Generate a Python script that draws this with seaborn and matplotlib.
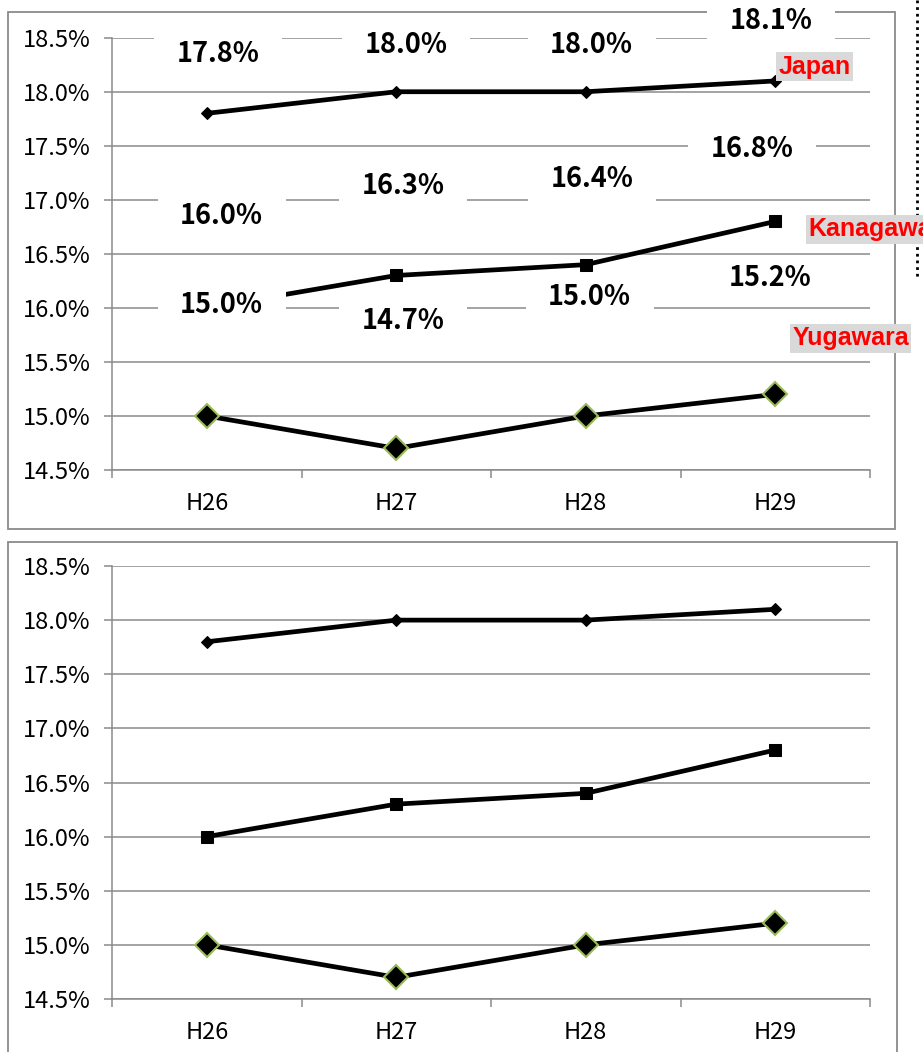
import matplotlib
matplotlib.use("Agg")
import matplotlib.pyplot as plt
import seaborn as sns
import numpy as np
import pandas as pd
from matplotlib.path import Path
from matplotlib.patches import Rectangle
from matplotlib.lines import Line2D
from matplotlib.ticker import FuncFormatter, FixedLocator

# ---------------- data ----------------
years = ["H26", "H27", "H28", "H29"]
japan = [17.8, 18.0, 18.0, 18.1]
kanagawa = [16.0, 16.3, 16.4, 16.8]
yugawara = [15.0, 14.7, 15.0, 15.2]
series_names = ["Japan", "Kanagawa", "Yugawara"]
yticks = [14.5, 15.0, 15.5, 16.0, 16.5, 17.0, 17.5, 18.0, 18.5]

# label offsets (pixels, from point to label baseline-centre) - style only
label_offsets = {
    "Japan": [(11, 51), (10, 39), (6, 39), (-4, 52)],
    "Kanagawa": [(15, 84), (7, 81), (6, 78), (-23, 64)],
    "Yugawara": [(15, 103), (7, 119), (4, 111), (-5, 108)],
}
name_offsets = {"Japan": (3, 14), "Kanagawa": (33, -8), "Yugawara": (17, 56)}

sns.set_style("white")
plt.rcParams["font.family"] = ["Noto Sans CJK JP", "DejaVu Sans"]

W, H = 923, 1052
fig = plt.figure(figsize=(W / 100, H / 100), dpi=100)

GRID = "#8a8a8a"

# panel borders (figure coords)
def add_border(x0, y0, x1, y1):
    r = Rectangle((x0 / W, 1 - y1 / H), (x1 - x0) / W, (y1 - y0) / H,
                  transform=fig.transFigure, fill=False, edgecolor=GRID,
                  linewidth=1.3, zorder=-1)
    fig.add_artist(r)

add_border(8, 12, 895, 529)
add_border(8, 542, 897, 1060)

# dotted vertical line at right
fig.add_artist(Line2D([917 / W, 917 / W], [1.0, 1 - 280 / H], transform=fig.transFigure,
                      color="black", linewidth=2, linestyle=(0, (1, 1.4)), zorder=-1))

ax_left = 112 / W
ax_w = (870 - 112) / W
ax_top = fig.add_axes([ax_left, (H - 470) / H, ax_w, (470 - 37.7) / H])
ax_bot = fig.add_axes([ax_left, (H - 999) / H, ax_w, (999 - 566) / H])


def wide_box(x0, y0, width, height, mutation_size):
    px = 0.83 * mutation_size
    py = 0.32 * mutation_size
    xa, xb = x0 - px, x0 + width + px
    ya, yb = y0 - py, y0 + height + py
    verts = [(xa, ya), (xb, ya), (xb, yb), (xa, yb), (xa, ya)]
    codes = [Path.MOVETO, Path.LINETO, Path.LINETO, Path.LINETO, Path.CLOSEPOLY]
    return Path(verts, codes)


styles = {
    "Japan": dict(marker="D", markersize=6.5, markeredgecolor="black", markerfacecolor="black"),
    "Kanagawa": dict(marker="s", markersize=9, markeredgecolor="black", markerfacecolor="black"),
    "Yugawara": dict(marker="D", markersize=12, markeredgecolor="#9bbb59",
                     markerfacecolor="black", markeredgewidth=1.5),
}
values = {"Japan": japan, "Kanagawa": kanagawa, "Yugawara": yugawara}

for ax, with_labels in [(ax_top, True), (ax_bot, False)]:
    ax.set_facecolor("none")
    for name in series_names:
        df = pd.DataFrame({"year": years, "value": values[name]})
        sns.lineplot(data=df, x="year", y="value", ax=ax, color="black",
                     linewidth=3.4, sort=False, **styles[name])
    ax.set_xlim(-0.5, 3.5)
    ax.set_ylim(14.5, 18.5)
    ax.set_xlabel("")
    ax.set_ylabel("")
    ax.yaxis.set_major_locator(FixedLocator(yticks))
    ax.yaxis.set_major_formatter(FuncFormatter(lambda v, p: f"{v:.1f}%"))
    ax.set_xticks(range(len(years)))
    ax.set_xticklabels(years)
    ax.xaxis.set_minor_locator(FixedLocator(np.arange(-0.5, len(years), 1.0)))
    ax.grid(axis="y", color=GRID, linewidth=1.1)
    ax.grid(axis="x", visible=False)
    ax.set_axisbelow(True)
    for s in ["top", "right"]:
        ax.spines[s].set_visible(False)
    for s in ["left", "bottom"]:
        ax.spines[s].set_color(GRID)
        ax.spines[s].set_linewidth(1.1)
    ax.tick_params(axis="y", which="major", direction="out", length=6, width=1.1,
                   color=GRID, pad=9.5, labelsize=17, labelcolor="black", left=True)
    ax.tick_params(axis="x", which="major", length=0, pad=16, labelsize=17,
                   labelcolor="black")
    ax.tick_params(axis="x", which="minor", direction="out", length=6, width=1.1,
                   color=GRID, bottom=True)

    if with_labels:
        for name in series_names:
            for i, v in enumerate(values[name]):
                dx, dy = label_offsets[name][i]
                ax.annotate(f"{v:.1f}%", xy=(i, v), xytext=(dx, dy),
                            textcoords="offset pixels", ha="center", va="baseline",
                            fontsize=19.5, fontweight="bold", color="black",
                            bbox=dict(boxstyle=wide_box, facecolor="white",
                                      edgecolor="none"),
                            zorder=5, annotation_clip=False)
            dx, dy = name_offsets[name]
            ax.annotate(name, xy=(len(years) - 1, values[name][-1]), xytext=(dx, dy),
                        textcoords="offset pixels", ha="left", va="center",
                        fontsize=18, fontweight="bold", color="#ff0000",
                        family=["Liberation Sans", "DejaVu Sans"],
                        bbox=dict(boxstyle="square,pad=0.1", facecolor="#d9d9d9",
                                  edgecolor="none"),
                        zorder=6, annotation_clip=False)

fig.savefig("out.png", dpi=100)
